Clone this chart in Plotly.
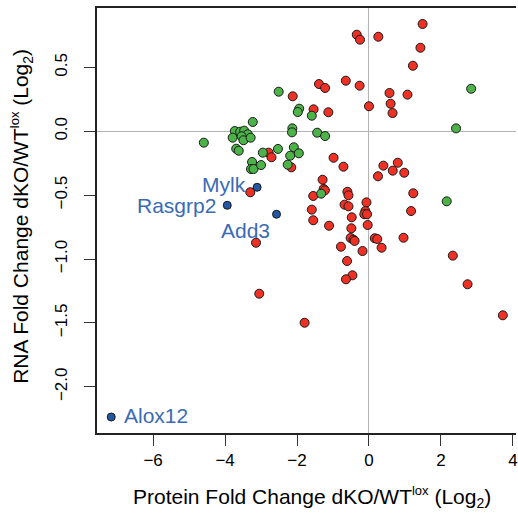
import plotly.graph_objects as go

# --- data (log2 fold changes) ---
red_x = [1.49, -0.34, -0.25, 0.26, 1.43, 1.22, -0.645, -1.39, -1.22, -0.26, 0.57, 1.07, 0.60, 0.655,
         0.0, -1.54, -1.13, -2.12, -2.79, -2.71, -2.16, -3.30, -0.985, -0.71, 0.40, 0.80, 0.66, 0.98,
         0.25, -1.29, -1.26, -1.225, -1.55, -0.60, -0.57, 1.23, -0.68, -0.57, -0.07, -1.59, -0.10,
         -0.13, -0.055, 1.17, -0.48, -1.55, -1.11, -0.49, -0.036, -0.51, -0.43, -0.40, 0.16, 0.23,
         0.96, -0.78, -0.18, 0.35, 2.33, -0.61, -0.46, -0.64, 2.74, 3.72, -1.79, -3.14, -3.05]
red_y = [0.84, 0.756, 0.717, 0.74, 0.654, 0.513, 0.396, 0.37, 0.339, 0.357, 0.30, 0.287, 0.216, 0.143,
         0.196, 0.172, 0.149, 0.274, -0.167, -0.203, -0.282, -0.477, -0.207, -0.277, -0.269, -0.246,
         -0.308, -0.324, -0.352, -0.379, -0.451, -0.462, -0.506, -0.473, -0.501, -0.485, -0.574,
         -0.587, -0.556, -0.613, -0.624, -0.649, -0.649, -0.624, -0.673, -0.696, -0.739, -0.759,
         -0.733, -0.835, -0.848, -0.858, -0.837, -0.843, -0.833, -0.903, -0.937, -0.911, -0.973,
         -1.015, -1.127, -1.158, -1.197, -1.44, -1.498, -0.872, -1.271]

green_x = [-2.51, -4.59, -3.23, -3.73, -3.79, -3.58, -3.47, -3.37, -3.54, -3.49, -3.29, -3.69, -3.62,
           -2.95, -2.53, -3.25, -3.28, -3.21, -3.00, -2.13, -2.14, -1.94, -1.98, -2.09, -2.19, -1.95,
           -2.26, -1.59, -1.44, -1.22, -1.33, 2.84, 2.42, 2.16]
green_y = [0.31, -0.089, 0.073, 0.002, -0.05, -0.003, 0.005, -0.023, -0.039, -0.070, -0.050, -0.136,
           -0.152, -0.167, -0.138, -0.240, -0.295, -0.295, -0.264, 0.023, -0.008, 0.177, 0.151, -0.125,
           -0.191, -0.172, -0.261, 0.122, -0.011, -0.037, -0.488, 0.333, 0.023, -0.548]

blue_genes = ["Mylk", "Rasgrp2", "Add3", "Alox12"]
blue_x = [-3.11, -3.94, -2.57, -7.165]
blue_y = [-0.438, -0.579, -0.649, -2.236]

x_ticks = [-6, -4, -2, 0, 2, 4]
y_ticks = [-2.0, -1.5, -1.0, -0.5, 0.0, 0.5]

FONT = "Liberation Sans, Arial, sans-serif"
RED = "#EE3124"
GREEN = "#4BB347"
BLUE = "#2157A3"
LABEL_BLUE = "#3A6BB5"

marker_line = dict(color="#1a1a1a", width=1)

fig = go.Figure()
fig.add_trace(go.Scatter(x=red_x, y=red_y, mode="markers",
                         marker=dict(color=RED, size=9, line=marker_line), showlegend=False))
fig.add_trace(go.Scatter(x=green_x, y=green_y, mode="markers",
                         marker=dict(color=GREEN, size=9, line=marker_line), showlegend=False))
fig.add_trace(go.Scatter(x=blue_x, y=blue_y, mode="markers",
                         marker=dict(color=BLUE, size=8, line=marker_line), showlegend=False))

# gene labels (offsets in pixels)
label_style = {
    "Mylk": dict(xanchor="right", yanchor="middle", xshift=-9, yshift=3),
    "Rasgrp2": dict(xanchor="right", yanchor="middle", xshift=-9, yshift=0),
    "Add3": dict(xanchor="center", yanchor="middle", xshift=-31, yshift=-16),
    "Alox12": dict(xanchor="left", yanchor="middle", xshift=11, yshift=2),
}
for g, gx, gy in zip(blue_genes, blue_x, blue_y):
    fig.add_annotation(x=gx, y=gy, text=g, showarrow=False,
                       font=dict(family=FONT, size=21, color=LABEL_BLUE),
                       **label_style[g])

# axis titles
SUP = '<span style="font-size:13px">lox</span>'
SUB = '<span style="font-size:14px">2</span>'
fig.add_annotation(xref="paper", yref="paper", x=0.513, y=-0.151, showarrow=False,
                   xanchor="center", yanchor="middle",
                   text=f"Protein Fold Change dKO/WT<sup>{SUP}</sup> (Log<sub>{SUB}</sub>)",
                   font=dict(family=FONT, size=21, color="black"))
fig.add_annotation(xref="paper", yref="paper", x=-0.18, y=0.51, showarrow=False,
                   xanchor="center", yanchor="middle", textangle=-90,
                   text=f"RNA Fold Change dKO/WT<sup>{SUP}</sup> (Log<sub>{SUB}</sub>)",
                   font=dict(family=FONT, size=21, color="black"))

fig.update_layout(
    width=518, height=520,
    margin=dict(l=97, r=0, t=8, b=87),
    paper_bgcolor="white", plot_bgcolor="white",
    font=dict(family=FONT, size=17, color="black"),
)
fig.update_xaxes(range=[-7.56, 4.086], tickvals=x_ticks, ticks="outside", ticklen=11,
                 tickwidth=1, tickcolor="#333", showgrid=False,
                 zeroline=True, zerolinecolor="#b3b3b3", zerolinewidth=1,
                 showline=True, linecolor="#222", linewidth=1.5, mirror=True,
                 ticklabeloverflow="allow",
                 tickfont=dict(family=FONT, size=17))
fig.update_yaxes(range=[-2.361, 0.965], tickvals=y_ticks, tickformat=".1f", ticks="outside",
                 ticklen=11, tickwidth=1, tickcolor="#333", showgrid=False, tickangle=-90,
                 zeroline=True, zerolinecolor="#b3b3b3", zerolinewidth=1,
                 showline=True, linecolor="#222", linewidth=1.5,
                 ticklabelstandoff=10,
                 tickfont=dict(family=FONT, size=17))

fig.write_html("out.html", config={"displayModeBar": False})

# remove the browser's default page margin so the figure sits at (0, 0)
with open("out.html", "r", encoding="utf-8") as f:
    html = f.read()
html = html.replace("<head>", "<head><style>html,body{margin:0;padding:0;overflow:hidden;}</style>", 1)
with open("out.html", "w", encoding="utf-8") as f:
    f.write(html)
